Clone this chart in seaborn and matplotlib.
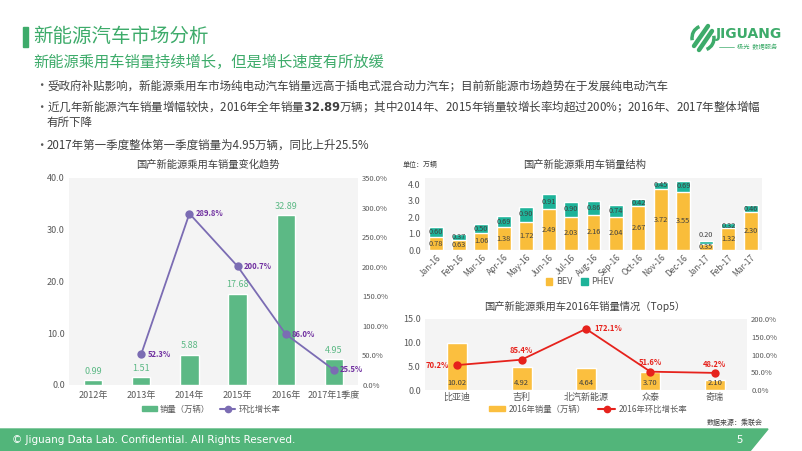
import matplotlib
matplotlib.use('Agg')
import matplotlib.pyplot as plt
import matplotlib.patches as mpatches
from matplotlib.lines import Line2D
import seaborn as sns
import pandas as pd
import numpy as np

# data
years = ['2012年', '2013年', '2014年', '2015年', '2016年', '2017年1季度']
sales = [0.99, 1.51, 5.88, 17.68, 32.89, 4.95]
growth = [np.nan, 52.3, 289.8, 200.7, 86.0, 25.5]

months = ['Jan-16', 'Feb-16', 'Mar-16', 'Apr-16', 'May-16', 'Jun-16', 'Jul-16', 'Aug-16',
          'Sep-16', 'Oct-16', 'Nov-16', 'Dec-16', 'Jan-17', 'Feb-17', 'Mar-17']
bev = [0.78, 0.63, 1.06, 1.38, 1.72, 2.49, 2.03, 2.16, 2.04, 2.67, 3.72, 3.55, 0.35, 1.32, 2.30]
phev = [0.60, 0.37, 0.50, 0.69, 0.90, 0.91, 0.90, 0.86, 0.74, 0.42, 0.45, 0.69, 0.20, 0.32, 0.46]

brands = ['比亚迪', '吉利', '北汽新能源', '众泰', '奇瑞']
brand_sales = [10.02, 4.92, 4.64, 3.70, 2.10]
brand_growth = [70.2, 85.4, 172.1, 51.6, 48.2]

GREEN = '#5cb985'
PURPLE = '#7b6cb3'
BEV_C = '#f9bd3a'
PHEV_C = '#1db399'
RED = '#e6221c'
TXT = '#595959'
LOGO = '#3dab6a'

sns.set_theme(style='white')
plt.rcParams['font.family'] = ['Noto Sans CJK SC', 'DejaVu Sans']
plt.rcParams['axes.unicode_minus'] = False

W, H = 802, 451
fig = plt.figure(figsize=(W / 100, H / 100), dpi=100)


def rect(x0, y0, x1, y1):
    return [x0 / W, 1 - y1 / H, (x1 - x0) / W, (y1 - y0) / H]


def fx(x):
    return x / W


def fy(y):
    return 1 - y / H


def clean(ax):
    for s in ax.spines.values():
        s.set_visible(False)
    ax.tick_params(length=0, colors=TXT, labelsize=6.5, pad=3)


# ---- header ----
fig.patches.append(mpatches.Rectangle((fx(23), fy(47)), 5 / W, 20 / H,
                                      transform=fig.transFigure, color=LOGO))
fig.text(fx(33), fy(37), '新能源汽车市场分析', fontsize=14, color=LOGO, va='center')
fig.text(fx(33), fy(62), '新能源乘用车销量持续增长，但是增长速度有所放缓', fontsize=11,
         color=LOGO, va='center')
bullets = [
    (86, '受政府补贴影响，新能源乘用车市场纯电动汽车销量远高于插电式混合动力汽车；目前新能源市场趋势在于发展纯电动汽车'),
    (107, '近几年新能源汽车销量增幅较快，2016年全年销量$\\bf{32.89}$万辆；其中2014年、2015年销量较增长率均超过200%；2016年、2017年整体增幅'),
    (145, '2017年第一季度整体第一季度销量为4.95万辆，同比上升25.5%'),
]
for y, t in bullets:
    fig.text(fx(35), fy(y), '•', fontsize=9, color=TXT, va='center')
    fig.text(fx(47), fy(y), t, fontsize=8.3, color='#404040', va='center')
fig.text(fx(47), fy(122), '有所下降', fontsize=8.3, color='#404040', va='center')

# logo
for (x0, y0, x1, y1) in [(694, 46, 708, 26), (699, 50, 712, 31)]:
    fig.add_artist(Line2D([fx(x0), fx(x1)], [fy(y0), fy(y1)], transform=fig.transFigure,
                          color=LOGO, linewidth=3.2, solid_capstyle='round'))
fig.patches.append(mpatches.Arc((fx(703), fy(38)), 22 / W, 24 / H, theta1=100, theta2=200,
                                transform=fig.transFigure, color=LOGO, linewidth=2.5))
fig.patches.append(mpatches.Arc((fx(703), fy(38)), 22 / W, 24 / H, theta1=280, theta2=20,
                                transform=fig.transFigure, color=LOGO, linewidth=2.5))
fig.text(fx(716), fy(34), 'JIGUANG', fontsize=10, color=LOGO, va='center',
         family='DejaVu Sans', fontweight='bold')
fig.add_artist(Line2D([fx(719), fx(734)], [fy(47), fy(47)], transform=fig.transFigure,
                      color=LOGO, linewidth=0.5))
fig.text(fx(737), fy(47), '极光  数据服务', fontsize=4.5, color=LOGO, va='center')

# footer
fig.patches.append(mpatches.Polygon([(0, 0), (fx(750), 0), (fx(768), 22 / H), (0, 22 / H)],
                                    closed=True, transform=fig.transFigure, color='#52b57a'))
fig.text(fx(12), 11 / H, '© Jiguang Data Lab. Confidential. All Rights Reserved.', fontsize=7.5,
         color='white', va='center', family=['Liberation Sans Narrow', 'DejaVu Sans'])
fig.text(fx(737), 11 / H, '5', fontsize=8, color='white', va='center')

# ---- left chart ----
ax1 = fig.add_axes(rect(69, 178, 358, 385))
df1 = pd.DataFrame({'year': years, 'sales': sales, 'growth': growth})
sns.barplot(data=df1, x='year', y='sales', color=GREEN, width=0.38, saturation=1, ax=ax1)
ax1.set_facecolor('#f4f4f4')
ax1.set_ylim(0, 40)
ax1.set_yticks([0, 10, 20, 30, 40])
ax1.set_yticklabels([f'{v:.1f}' for v in [0, 10, 20, 30, 40]])
ax1.set_xlabel('')
ax1.set_ylabel('')
clean(ax1)
ax1.tick_params(axis='x', labelsize=6.5, pad=4)
for i, v in enumerate(sales):
    ax1.text(i, v + 0.8, f'{v:.2f}', ha='center', va='bottom', fontsize=6.5, color=GREEN)

ax1b = ax1.twinx()
pos = np.arange(len(years))
sns.lineplot(x=pos[1:], y=growth[1:], color=PURPLE, marker='o', markersize=6, linewidth=1.3,
             markeredgewidth=0, ax=ax1b)
ax1b.set_ylim(0, 350)
ax1b.set_yticks(np.arange(0, 351, 50))
ax1b.set_yticklabels([f'{v:.1f}%' for v in np.arange(0, 351, 50)])
clean(ax1b)
ax1b.tick_params(labelsize=5.5, pad=3)
for i in range(1, len(years)):
    ax1b.text(i + 0.13, growth[i], f'{growth[i]:.1f}%', va='center', ha='left', fontsize=5.5,
              color='#7030a0', fontweight='bold')
ax1.set_xlim(-0.5, len(years) - 0.5)
fig.text(fx(208), fy(165), '国产新能源乘用车销量变化趋势', ha='center', va='center',
         fontsize=7.4, color='#404040')
h1 = [mpatches.Patch(color=GREEN, label='销量（万辆）'),
      Line2D([], [], color=PURPLE, marker='o', markersize=4.5, label='环比增长率')]
fig.legend(handles=h1, loc='center', bbox_to_anchor=(fx(211), fy(409)), ncol=2, frameon=False,
           fontsize=6, handlelength=1.8, columnspacing=1.2, labelcolor=TXT, handleheight=0.6,
           handletextpad=0.4)

# ---- top right chart ----
ax2 = fig.add_axes(rect(425, 178, 762, 250))
df2 = pd.DataFrame({'month': months, 'bev': bev, 'phev': phev})
df2['total'] = df2['bev'] + df2['phev']
sns.barplot(data=df2, x='month', y='total', color=PHEV_C, width=0.62, saturation=1, ax=ax2)
sns.barplot(data=df2, x='month', y='bev', color=BEV_C, width=0.62, saturation=1, ax=ax2)
ax2.set_facecolor('#f4f4f4')
ax2.set_ylim(0, 4.4)
ax2.set_yticks([0, 1, 2, 3, 4])
ax2.set_yticklabels([f'{v:.1f}' for v in [0, 1, 2, 3, 4]])
ax2.set_xlabel('')
ax2.set_ylabel('')
clean(ax2)
ax2.tick_params(axis='x', labelsize=6, pad=2)
plt.setp(ax2.get_xticklabels(), rotation=45, ha='right', rotation_mode='anchor')
for i in range(len(months)):
    ax2.text(i, bev[i] / 2, f'{bev[i]:.2f}', ha='center', va='center', fontsize=5.3, color='#404040')
    if phev[i] < 0.3:
        ax2.text(i, bev[i] + phev[i] + 0.12, f'{phev[i]:.2f}', ha='center', va='bottom', fontsize=5.3,
                 color='#404040')
    else:
        ax2.text(i, bev[i] + phev[i] / 2, f'{phev[i]:.2f}', ha='center', va='center', fontsize=5.3,
                 color='#404040')
fig.text(fx(585), fy(165), '国产新能源乘用车销量结构', ha='center', va='center',
         fontsize=7.4, color='#404040')
fig.text(fx(403), fy(165), '单位：万辆', ha='left', va='center', fontsize=5, color='#404040')
h2 = [mpatches.Patch(color=BEV_C, label='BEV'), mpatches.Patch(color=PHEV_C, label='PHEV')]
fig.legend(handles=h2, loc='center', bbox_to_anchor=(fx(580), fy(282)), ncol=2, frameon=False,
           fontsize=6.5, handlelength=0.7, handleheight=0.7, columnspacing=1.0, labelcolor=TXT,
           handletextpad=0.4)

# ---- bottom right chart ----
ax3 = fig.add_axes(rect(425, 319, 747, 390))
df3 = pd.DataFrame({'brand': brands, 'sales': brand_sales, 'growth': brand_growth})
sns.barplot(data=df3, x='brand', y='sales', color='#fbbf3f', width=0.31, saturation=1, ax=ax3)
ax3.set_facecolor('#f4f4f4')
ax3.set_ylim(0, 15)
ax3.set_yticks([0, 5, 10, 15])
ax3.set_yticklabels([f'{v:.1f}' for v in [0, 5, 10, 15]])
ax3.set_xlabel('')
ax3.set_ylabel('')
clean(ax3)
ax3.tick_params(axis='x', labelsize=6.5, pad=2)
for i, v in enumerate(brand_sales):
    ax3.text(i, 1.5, f'{v:.2f}', ha='center', va='center', fontsize=5.5, color='#404040')

ax3b = ax3.twinx()
sns.lineplot(x=np.arange(len(brands)), y=brand_growth, color=RED, marker='o', markersize=6,
             linewidth=1.3, markeredgewidth=0, ax=ax3b)
ax3b.set_ylim(0, 200)
ax3b.set_yticks(np.arange(0, 201, 50))
ax3b.set_yticklabels([f'{v:.1f}%' for v in np.arange(0, 201, 50)])
clean(ax3b)
ax3b.tick_params(labelsize=5.5, pad=3)
for i, v in enumerate(brand_growth):
    if i == 0:
        ax3b.text(i - 0.13, v, f'{v:.1f}%', ha='right', va='center', fontsize=5.5, color=RED,
                  fontweight='bold')
    elif i == 2:
        ax3b.text(i + 0.13, v, f'{v:.1f}%', ha='left', va='center', fontsize=5.5, color=RED,
                  fontweight='bold')
    else:
        ax3b.text(i, v + 12, f'{v:.1f}%', ha='center', va='bottom', fontsize=5.5, color=RED,
                  fontweight='bold')
ax3.set_xlim(-0.5, len(brands) - 0.5)
fig.text(fx(585), fy(306), '国产新能源乘用车2016年销量情况（Top5）', ha='center', va='center',
         fontsize=7.4, color='#404040')
h3 = [mpatches.Patch(color='#fbbf3f', label='2016年销量（万辆）'),
      Line2D([], [], color=RED, marker='o', markersize=4.5, label='2016年环比增长率')]
fig.legend(handles=h3, loc='center', bbox_to_anchor=(fx(588), fy(409)), ncol=2, frameon=False,
           fontsize=6, handlelength=2.0, columnspacing=1.5, labelcolor=TXT, handleheight=0.6,
           handletextpad=0.4)
fig.text(fx(763), fy(423), '数据来源：乘联会', ha='right', va='center', fontsize=5, color='#404040')

fig.savefig('out.png', dpi=100)
